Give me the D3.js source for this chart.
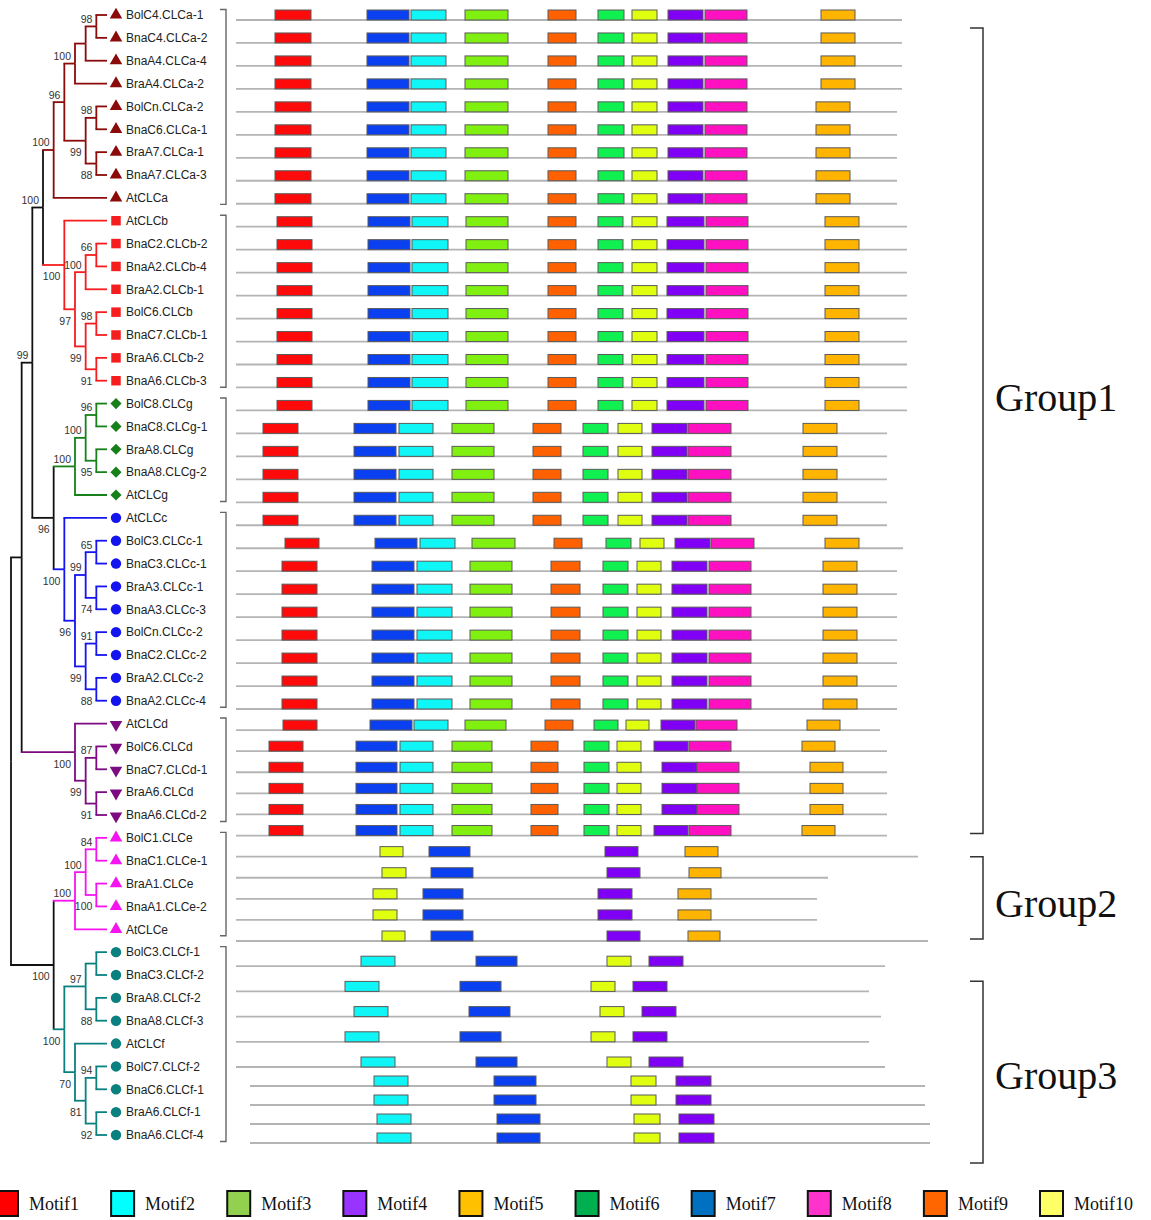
<!DOCTYPE html>
<html>
<head>
<meta charset="utf-8">
<script src="https://cdn.jsdelivr.net/npm/d3@7"></script>
<style>
  body { margin: 0; background: #fff; }
  svg { display: block; }
</style>
</head>
<body>
<svg id="chart" width="1151" height="1220"></svg>
<script>
// ---- tree (newick, bootstrap values as internal labels) ----
const treeNewick =
  "(((((((((BolC4.CLCa-1,BnaC4.CLCa-2)98,BnaA4.CLCa-4),BraA4.CLCa-2)100," +
  "((BolCn.CLCa-2,BnaC6.CLCa-1)98,(BraA7.CLCa-1,BnaA7.CLCa-3)88)99)96,AtCLCa)100," +
  "(AtCLCb,(((BnaC2.CLCb-2,BnaA2.CLCb-4)66,BraA2.CLCb-1)100," +
  "((BolC6.CLCb,BnaC7.CLCb-1)98,(BraA6.CLCb-2,BnaA6.CLCb-3)91)99)97)100)100," +
  "((((BolC8.CLCg,BnaC8.CLCg-1)96,(BraA8.CLCg,BnaA8.CLCg-2)95)100,AtCLCg)100," +
  "(AtCLCc,(((BolC3.CLCc-1,BnaC3.CLCc-1)65,(BraA3.CLCc-1,BnaA3.CLCc-3)74)99," +
  "((BolCn.CLCc-2,BnaC2.CLCc-2)91,(BraA2.CLCc-2,BnaA2.CLCc-4)88)99)96)100)96)99," +
  "(AtCLCd,((BolC6.CLCd,BnaC7.CLCd-1)87,(BraA6.CLCd,BnaA6.CLCd-2)91)99)100)," +
  "((((BolC1.CLCe,BnaC1.CLCe-1)84,(BraA1.CLCe,BnaA1.CLCe-2)100)100,AtCLCe)100," +
  "(((BolC3.CLCf-1,BnaC3.CLCf-2),(BraA8.CLCf-2,BnaA8.CLCf-3)88)97," +
  "(AtCLCf,((BolC7.CLCf-2,BnaC6.CLCf-1)94,(BraA6.CLCf-1,BnaA6.CLCf-4)92)81)70)100)100)";

const clades = ["CLCa", "CLCb", "CLCg", "CLCc", "CLCd", "CLCe", "CLCf"];
const cladeColors = ["#8b0a0a", "#f51d1d", "#17801a", "#1414f0", "#7c0a80", "#f514f0", "#0b8080"];
const cladeSymbols = ["triangle", "square", "diamond", "circle", "down", "triangle", "circle"];

// ---- motifs ----
const motifNames = ["Motif1", "Motif2", "Motif3", "Motif4", "Motif5",
  "Motif6", "Motif7", "Motif8", "Motif9", "Motif10"];
const motifColors = ["#ff0a0a", "#10f5f5", "#80f010", "#8000f5", "#ffb400",
  "#10f050", "#0a40f0", "#ff10c0", "#ff6000", "#e0ff10"];
const legendColors = ["#ff0000", "#00ffff", "#92d050", "#9933ff", "#ffc000",
  "#00b050", "#0070c0", "#ff33cc", "#ff6600", "#ffff66"];

// layouts: line = [start, end], motifs = [motif number, start, end] (positions along the protein)
const layouts = {
  a1: { line: [0, 666], m: [[1, 39, 75], [7, 131, 173], [2, 175, 210], [3, 229, 272], [9, 312, 340], [6, 362, 388], [10, 396, 421], [4, 432, 467], [8, 469, 511], [5, 585, 619]] },
  a2: { line: [0, 661], m: [[1, 39, 75], [7, 131, 173], [2, 175, 210], [3, 229, 272], [9, 312, 340], [6, 362, 388], [10, 396, 421], [4, 432, 467], [8, 469, 511], [5, 580, 614]] },
  b:  { line: [0, 671], m: [[1, 41, 76], [7, 132, 174], [2, 176, 212], [3, 230, 272], [9, 312, 340], [6, 362, 387], [10, 396, 421], [4, 431, 468], [8, 470, 512], [5, 589, 623]] },
  g:  { line: [0, 651], m: [[1, 27, 62], [7, 118, 160], [2, 163, 197], [3, 216, 258], [9, 297, 325], [6, 347, 372], [10, 382, 406], [4, 416, 451], [8, 452, 495], [5, 567, 601]] },
  c1: { line: [0, 667], m: [[1, 49, 83], [7, 139, 181], [2, 184, 219], [3, 236, 279], [9, 318, 346], [6, 370, 395], [10, 404, 428], [4, 439, 474], [8, 475, 518], [5, 589, 623]] },
  c2: { line: [0, 661], m: [[1, 46, 81], [7, 136, 178], [2, 181, 216], [3, 234, 276], [9, 315, 344], [6, 367, 392], [10, 401, 425], [4, 436, 471], [8, 473, 515], [5, 587, 621]] },
  d1: { line: [0, 644], m: [[1, 47, 81], [7, 134, 176], [2, 178, 212], [3, 229, 270], [9, 309, 337], [6, 358, 382], [10, 390, 413], [4, 425, 459], [8, 460, 501], [5, 571, 604]] },
  d2: { line: [0, 651], m: [[1, 33, 67], [7, 120, 161], [2, 164, 197], [3, 216, 256], [9, 295, 322], [6, 348, 373], [10, 381, 405], [4, 418, 452], [8, 453, 495], [5, 566, 599]] },
  d3: { line: [0, 651], m: [[1, 33, 67], [7, 120, 161], [2, 164, 197], [3, 216, 256], [9, 295, 322], [6, 348, 373], [10, 381, 405], [4, 426, 461], [8, 461, 503], [5, 574, 607]] },
  e1: { line: [0, 682], m: [[10, 144, 167], [7, 193, 234], [4, 369, 402], [5, 449, 482]] },
  e2: { line: [0, 592], m: [[10, 146, 170], [7, 195, 237], [4, 371, 404], [5, 453, 485]] },
  e3: { line: [0, 581], m: [[10, 137, 161], [7, 187, 227], [4, 362, 396], [5, 442, 475]] },
  e4: { line: [0, 692], m: [[10, 146, 169], [7, 195, 237], [4, 371, 404], [5, 452, 484]] },
  f1: { line: [0, 649], m: [[2, 125, 159], [7, 240, 281], [10, 371, 395], [4, 413, 447]] },
  f2: { line: [0, 633], m: [[2, 109, 143], [7, 224, 265], [10, 355, 379], [4, 397, 431]] },
  f3: { line: [0, 645], m: [[2, 118, 152], [7, 233, 274], [10, 364, 388], [4, 406, 440]] },
  f4: { line: [14, 689], m: [[2, 138, 172], [7, 258, 300], [10, 395, 420], [4, 440, 475]] },
  f5: { line: [14, 694], m: [[2, 141, 175], [7, 261, 304], [10, 398, 424], [4, 443, 478]] }
};

const motifRows = [
  "a1", "a1", "a1", "a1", "a2", "a2", "a2", "a2", "a2",
  "b", "b", "b", "b", "b", "b", "b", "b", "b",
  "g", "g", "g", "g", "g",
  "c1", "c2", "c2", "c2", "c2", "c2", "c2", "c2",
  "d1", "d2", "d3", "d3", "d3", "d2",
  "e1", "e2", "e3", "e3", "e4",
  "f1", "f2", "f3", "f2", "f1", "f4", "f4", "f5", "f5"
];

const groupNames = ["Group1", "Group2", "Group3"];
const groupRowSpans = [[0.35, 35.9], [37, 40.9], [42.6, 51.05]];
const groupLabelRows = [16.4, 39.2, 46.4];

// ---- layout ----
const svg = d3.select("#chart");

// motif panel scales
const x = d3.scaleLinear().domain([0, 700]).range([236, 936]);
const rowY = d3.scaleLinear().domain([0, 30, 41, 46, 50]).range([20, 709, 941, 1067, 1143]);
const boxH = 10;

// ---- tree ----
function parseNewick(s) {
  let i = 0;
  function node() {
    const n = {};
    if (s[i] === "(") {
      i++;
      n.children = [node()];
      while (s[i] === ",") { i++; n.children.push(node()); }
      i++;
    }
    let tok = "";
    while (i < s.length && !",()".includes(s[i])) tok += s[i++];
    if (n.children) n.support = tok ? +tok : null;
    else n.name = tok;
    return n;
  }
  return node();
}

const root = d3.hierarchy(parseNewick(treeNewick));
const nLeaves = root.leaves().length;
const leafTop = 15, leafBottom = 1135;
const step = (leafBottom - leafTop) / (nLeaves - 1);
// cluster pads half a step at both ends
d3.cluster().size([step * nLeaves, 96]).separation(() => 1)(root);

root.eachAfter(d => {
  if (!d.children) d.clade = d.data.name.match(/CLC[a-z]/)[0];
  else {
    const c = d.children[0].clade;
    d.clade = d.children.every(k => k.clade === c) ? c : null;
  }
});
const colorOf = d => d.clade ? cladeColors[clades.indexOf(d.clade)] : "#111";
const symbolOf = d => cladeSymbols[clades.indexOf(d.clade)];

const tree = svg.append("g").attr("transform", `translate(11,${leafTop - step / 2})`);

// vertical part coloured by parent, horizontal part by the child
tree.selectAll(".vlink")
  .data(root.links())
  .join("path")
  .attr("fill", "none")
  .attr("stroke", d => colorOf(d.source))
  .attr("stroke-width", 1.8)
  .attr("d", d => `M${d.source.y},${d.source.x}V${d.target.x}`);

tree.selectAll(".hlink")
  .data(root.links())
  .join("path")
  .attr("fill", "none")
  .attr("stroke", d => colorOf(d.target))
  .attr("stroke-width", 1.8)
  .attr("d", d => `M${d.source.y - 0.9},${d.target.x}H${d.target.y}`);

// bootstrap labels
tree.selectAll(".boot")
  .data(root.descendants().filter(d => d.parent && d.data.support != null))
  .join("text")
  .attr("x", d => d.y - 4)
  .attr("y", d => d.parent.children[0] === d ? d.x - 3.5 : d.x + 15.5)
  .attr("text-anchor", "end")
  .attr("font-family", "Liberation Sans, Arial, sans-serif")
  .attr("font-size", 10.5)
  .attr("fill", "#333")
  .text(d => d.data.support);

// leaves
const leaves = root.leaves();
const leafG = tree.selectAll(".leaf")
  .data(leaves)
  .join("g")
  .attr("transform", d => `translate(${d.y},${d.x})`);

leafG.append("path")
  .attr("transform", d => {
    const s = symbolOf(d);
    if (s === "down") return "translate(9,1) rotate(180)";
    if (s === "diamond") return "translate(9,0) rotate(45)";
    return "translate(9,0)";
  })
  .attr("d", d => {
    const s = symbolOf(d);
    if (s === "down" || s === "triangle") return d3.symbol(d3.symbolTriangle, 68)();
    if (s === "square") return d3.symbol(d3.symbolSquare, 90)();
    if (s === "diamond") return d3.symbol(d3.symbolSquare, 62)();
    return d3.symbol(d3.symbolCircle, 85)();
  })
  .attr("fill", d => colorOf(d));

leafG.append("text")
  .attr("x", 19)
  .attr("dy", "0.36em")
  .attr("font-family", "Liberation Sans, Arial, sans-serif")
  .attr("font-size", 12)
  .attr("fill", "#222")
  .text(d => d.data.name);

// clade brackets next to the labels
const cladeSpans = clades.map(c => {
  const ls = leaves.filter(l => l.clade === c);
  return [d3.min(ls, l => l.x), d3.max(ls, l => l.x)];
});
tree.selectAll(".cbr")
  .data(cladeSpans)
  .join("path")
  .attr("fill", "none")
  .attr("stroke", "#666")
  .attr("stroke-width", 1.4)
  .attr("d", d => `M${209},${d[0] - 5.5}H${215}V${d[1] + 6.5}H${209}`);

// ---- motif panel ----
const rows = svg.append("g").selectAll("g")
  .data(motifRows.map((k, i) => ({ i, lay: layouts[k] })))
  .join("g")
  .attr("transform", d => `translate(0,${rowY(d.i)})`);

rows.append("line")
  .attr("x1", d => x(d.lay.line[0]))
  .attr("x2", d => x(d.lay.line[1]))
  .attr("stroke", "#b4b4b4")
  .attr("stroke-width", 1.8);

rows.selectAll("rect")
  .data(d => d.lay.m)
  .join("rect")
  .attr("x", d => x(d[1]))
  .attr("y", -boxH)
  .attr("width", d => x(d[2]) - x(d[1]))
  .attr("height", boxH)
  .attr("fill", d => motifColors[d[0] - 1])
  .attr("stroke", "#5a5a5a")
  .attr("stroke-width", 1);

// ---- group brackets ----
const groups = svg.append("g");
groups.selectAll("path")
  .data(groupRowSpans)
  .join("path")
  .attr("fill", "none")
  .attr("stroke", "#333")
  .attr("stroke-width", 1.5)
  .attr("d", d => `M970,${rowY(d[0])}H983V${rowY(d[1])}H970`);

groups.selectAll("text")
  .data(groupNames)
  .join("text")
  .attr("x", 995)
  .attr("y", (d, i) => rowY(groupLabelRows[i]))
  .attr("dy", "0.35em")
  .attr("font-family", "Liberation Serif, Times New Roman, serif")
  .attr("font-size", 40)
  .attr("fill", "#111")
  .text(d => d);

// ---- legend ----
const lx = d3.scalePoint().domain(motifNames).range([-5, 1040]);
const legend = svg.append("g").selectAll("g")
  .data(motifNames)
  .join("g")
  .attr("transform", d => `translate(${lx(d)},1191)`);

legend.append("rect")
  .attr("width", 23)
  .attr("height", 25)
  .attr("fill", (d, i) => legendColors[i])
  .attr("stroke", "#111")
  .attr("stroke-width", 2);

legend.append("text")
  .attr("x", 34)
  .attr("y", 19)
  .attr("font-family", "Liberation Serif, Times New Roman, serif")
  .attr("font-size", 18)
  .attr("fill", "#111")
  .text(d => d);
</script>
</body>
</html>
